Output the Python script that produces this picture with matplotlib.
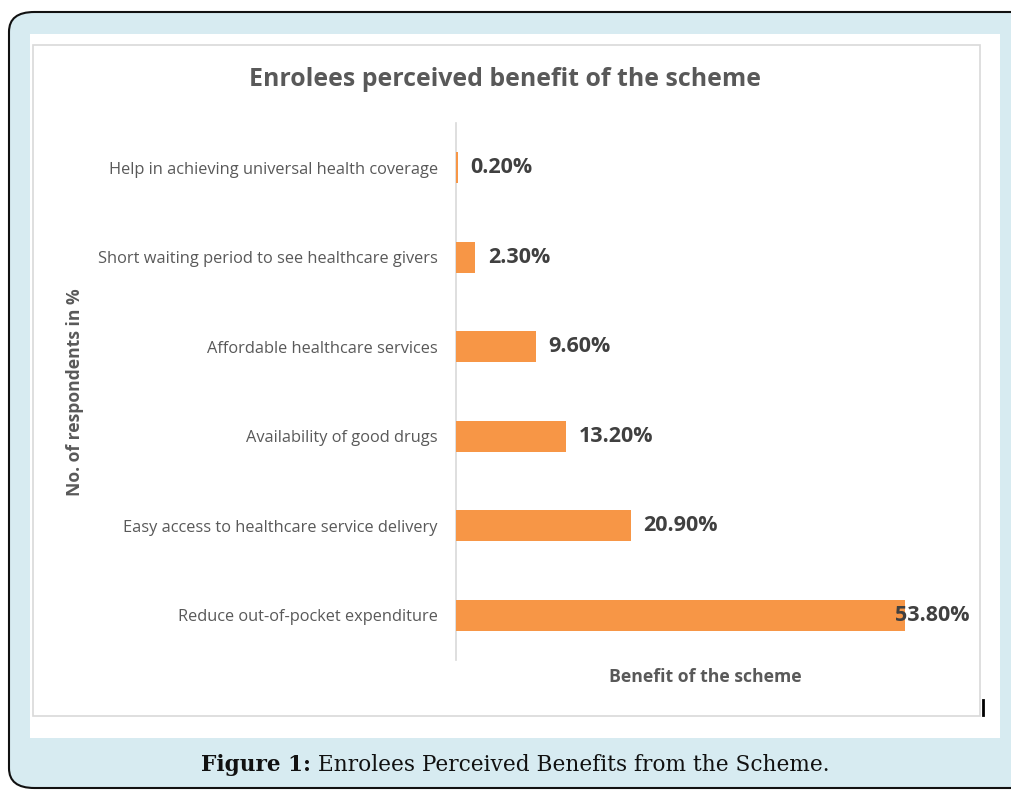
import matplotlib
matplotlib.use("Agg")
import matplotlib.pyplot as plt
from matplotlib.patches import FancyBboxPatch, Rectangle
from matplotlib.lines import Line2D

categories = [
    "Reduce out-of-pocket expenditure",
    "Easy access to healthcare service delivery",
    "Availability of good drugs",
    "Affordable healthcare services",
    "Short waiting period to see healthcare givers",
    "Help in achieving universal health coverage",
]
values = [53.8, 20.9, 13.2, 9.6, 2.3, 0.2]
value_labels = ["53.80%", "20.90%", "13.20%", "9.60%", "2.30%", "0.20%"]

title = "Enrolees perceived benefit of the scheme"
xlabel = "Benefit of the scheme"
ylabel = "No. of respondents in %"
caption_bold = "Figure 1:"
caption_rest = " Enrolees Perceived Benefits from the Scheme."

W, H = 1011, 790
fig = plt.figure(figsize=(W / 100, H / 100), dpi=100, facecolor="white")

def fx(px):
    return px / W

def fy(py):
    return 1 - py / H

# outer rounded panel
outer = FancyBboxPatch((fx(9), fy(788)), fx(1040 - 9), (788 - 12) / H,
                       boxstyle="round,pad=0,rounding_size=0.025",
                       transform=fig.transFigure, facecolor="#d7ebf1",
                       edgecolor="#111111", linewidth=1.5, zorder=0)
fig.patches.append(outer)
# white panel
fig.patches.append(Rectangle((fx(30), fy(738)), fx(1000 - 30), (738 - 34) / H,
                             transform=fig.transFigure, facecolor="white",
                             edgecolor="none", zorder=1))
# chart border
fig.patches.append(Rectangle((fx(33), fy(716)), fx(980 - 33), (716 - 45) / H,
                             transform=fig.transFigure, facecolor="white",
                             edgecolor="#d9d9d9", linewidth=1.2, zorder=2))
# cursor mark
fig.lines.append(Line2D([fx(983), fx(983)], [fy(700), fy(715)],
                        transform=fig.transFigure, color="black", linewidth=2, zorder=3))

ax = fig.add_axes([fx(456), fy(660), fx(957 - 456), (660 - 123) / H], zorder=4)
ax.patch.set_alpha(0)
ypos = list(range(len(categories)))
ax.barh(ypos, values, height=0.35, color="#f79646", zorder=3)
ax.set_xlim(0, 60)
ax.set_ylim(-0.5, len(categories) - 0.5)
ax.set_yticks(ypos)
ax.set_yticklabels(categories, fontsize=11.8, color="#595959", family="Open Sans")
ax.tick_params(axis="y", length=0, pad=13)
ax.set_xticks([])
for s in ["top", "right", "bottom"]:
    ax.spines[s].set_visible(False)
ax.spines["left"].set_color("#d9d9d9")
ax.spines["left"].set_linewidth(1.2)

# value labels
fig.canvas.draw()
for y, v, lab in zip(ypos, values, value_labels):
    xpix = ax.transData.transform((v, y))[0]
    if xpix + 12 + 75 > 975:
        ax.annotate(lab, xy=(fx(970), 0), xycoords=("figure fraction", "data"),
                    xytext=(0, y), textcoords=("offset points", "data"),
                    ha="right", va="center", fontsize=15.5, fontweight="bold",
                    color="#404040", family="Open Sans", zorder=5)
    else:
        ax.annotate(lab, xy=(v, y), xytext=(9, 0), textcoords="offset points",
                    ha="left", va="center", fontsize=15.5, fontweight="bold",
                    color="#404040", family="Open Sans", zorder=5)

fig.text(fx(505), fy(80), title, ha="center", va="center", fontsize=17.9,
         fontweight="bold", color="#595959", family="Open Sans", zorder=5)
fig.text(fx(705), fy(677), xlabel, ha="center", va="center", fontsize=12.7,
         fontweight="bold", color="#595959", family="Open Sans", zorder=5)
fig.text(fx(75), fy(392), ylabel, ha="center", va="center", rotation=90,
         fontsize=12.6, fontweight="bold", color="#595959", family="Open Sans", zorder=5)

# caption
t1 = fig.text(0, fy(765), caption_bold, ha="left", va="center",
              fontsize=15.6, fontweight="bold", color="#111111", family="DejaVu Serif", zorder=5)
t2 = fig.text(0, fy(765), caption_rest, ha="left", va="center",
              fontsize=15.6, color="#111111", family="DejaVu Serif", zorder=5)
fig.canvas.draw()
w1 = t1.get_window_extent().width
w2 = t2.get_window_extent().width
x0 = 515 - (w1 + w2) / 2
t1.set_x(fx(x0))
t2.set_x(fx(x0 + w1))

fig.savefig("out.png", dpi=100, facecolor="white")
